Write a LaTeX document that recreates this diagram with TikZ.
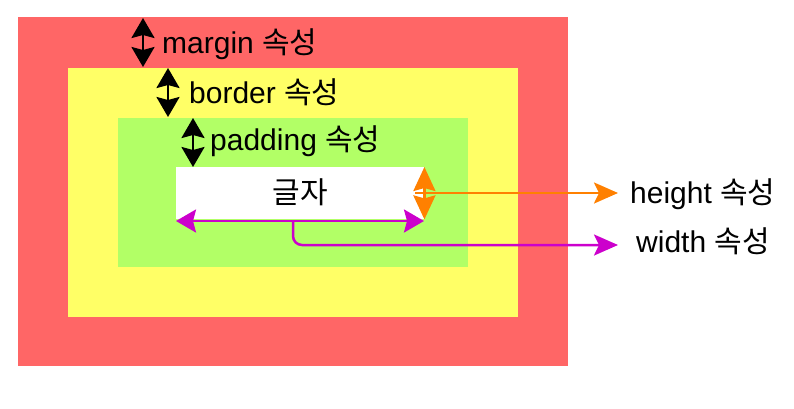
\documentclass[tikz,border=0pt]{standalone}
\usepackage{fontspec}
\setmainfont{Liberation Sans}
\newfontfamily\kr{Noto Sans CJK KR}
\usetikzlibrary{arrows.meta}
\definecolor{mred}{RGB}{255,102,102}
\definecolor{myel}{RGB}{255,255,102}
\definecolor{mgrn}{RGB}{178,255,102}
\definecolor{morg}{RGB}{255,128,0}
\definecolor{mmag}{RGB}{204,0,204}
\tikzset{
  box/.style={draw=none,inner sep=0pt,anchor=north west},
  lbl/.style={inner sep=0pt,anchor=base west,font=\fontsize{30}{32}\selectfont},
  dbl/.style={line width=2.5pt,{Stealth[length=20pt,width=23pt,inset=3pt]}-{Stealth[length=20pt,width=23pt,inset=3pt]}},
  dblo/.style={line width=2.5pt,{Stealth[length=24pt,width=22pt,inset=3pt]}-{Stealth[length=24pt,width=22pt,inset=3pt]}},
  one/.style={line width=2.5pt,-{Stealth[length=24pt,width=21pt,inset=5pt]}},
}
\begin{document}
\begin{tikzpicture}[x=1pt,y=-1pt]
\useasboundingbox (0,0) rectangle (794,408);
\node[box,fill=mred,minimum width=550pt,minimum height=349pt] (margin) at (18,17) {};
\node[box,fill=myel,minimum width=450pt,minimum height=249pt] (border) at (68,68) {};
\node[box,fill=mgrn,minimum width=350pt,minimum height=149pt] (padding) at (118,118) {};
\node[box,fill=white,minimum width=248pt,minimum height=52pt] (content) at (176,167) {};
\node[inner sep=0pt,font=\fontsize{30}{32}\selectfont\kr] (gj) at (300,192) {글자};
% black double arrows
\coordinate (m1) at (143,18); \coordinate (m2) at (143,67);
\coordinate (b1) at (168,68); \coordinate (b2) at (168,117);
\coordinate (p1) at (193,118); \coordinate (p2) at (193,167);
\draw[dbl] (m1) -- (m2);
\draw[dbl] (b1) -- (b2);
\draw[dbl] (p1) -- (p2);
\node[lbl] (tm) at (162,53) {margin {\kr 속성}};
\node[lbl] (tb) at (189,103) {border {\kr 속성}};
\node[lbl] (tp) at (210,150) {padding {\kr 속성}};
% orange
\draw[dblo,morg] (content.north east) -- (content.south east);
\coordinate (o1) at (415,193);
\coordinate (o2) at (618,193);
\node[lbl] (th) at (630,203) {height {\kr 속성}};
\draw[one,morg] (o1) -- (o2);
% magenta
\coordinate (w0) at (293,221);
\coordinate (w1) at (293,245);
\coordinate (w2) at (618,245);
\coordinate (d1) at (176,221);
\coordinate (d2) at (424,221);
\node[lbl] (tw) at (636,252) {width {\kr 속성}};
\draw[dbl,mmag] (d1) -- (d2);
\draw[one,mmag,rounded corners=9pt] (w0) -- (w1) -- (w2);
\end{tikzpicture}
\end{document}
